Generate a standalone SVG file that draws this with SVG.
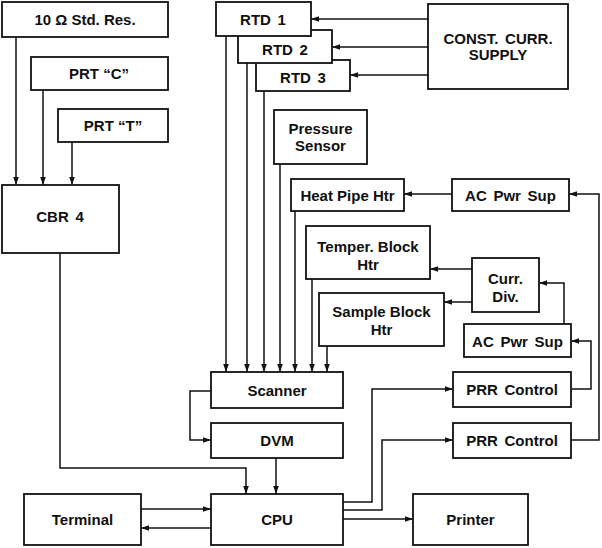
<svg xmlns="http://www.w3.org/2000/svg" width="602" height="548" viewBox="0 0 602 548">
<defs>
<marker id="ah" markerUnits="userSpaceOnUse" markerWidth="9" markerHeight="8" refX="8" refY="4" orient="auto">
<path d="M0,1.2 L8,4 L0,6.8 Z" fill="#111"/>
</marker>
<style>
.box{fill:#fff;stroke:#111;stroke-width:1.8}
.t{font-family:"Liberation Sans",Arial,sans-serif;font-weight:bold;font-size:15px;fill:#111;text-anchor:middle;dominant-baseline:central}
.w{word-spacing:2.5px}
.c path{fill:none;stroke:#111;stroke-width:1.5}
.c .a{marker-end:url(#ah)}
</style>
</defs>
<rect width="602" height="548" fill="#fff"/>
<g class="c" id="connectors">
<path class="a" d="M16,37 V185"/>
<path class="a" d="M43,90 V185"/>
<path class="a" d="M72,142 V185"/>
<path class="a" d="M60,253 V468 H246 V494"/>
<path class="a" d="M428,19 H311"/>
<path class="a" d="M428,47 H332"/>
<path class="a" d="M428,75 H350"/>
<path class="a" d="M226,36 V372"/>
<path class="a" d="M247,63 V372"/>
<path class="a" d="M264,91 V372"/>
<path class="a" d="M280,164 V372"/>
<path class="a" d="M295,211 V372"/>
<path class="a" d="M312,279 V372"/>
<path class="a" d="M327,346 V372"/>
<path class="a" d="M452,194 H404"/>
<path class="a" d="M472,269 H430"/>
<path class="a" d="M472,302 H444"/>
<path class="a" d="M564,324 V283 H539"/>
<path class="a" d="M571,389 H591 V341 H571"/>
<path class="a" d="M571,440 H599 V194 H569"/>
<path class="a" d="M211,391 H190 V440 H211"/>
<path class="a" d="M276,458 V494"/>
<path class="a" d="M141,509 H211"/>
<path class="a" d="M211,528 H141"/>
<path class="a" d="M343,519 H413"/>
<path class="a" d="M343,502 H372 V389 H453"/>
<path class="a" d="M343,510 H382 V440 H453"/>
</g>
<g id="std-res"><rect class="box" x="2" y="2" width="166" height="35"/><text class="t" x="85" y="19.5">10 Ω Std. Res.</text></g>
<g id="prt-c"><rect class="box" x="31" y="57" width="137" height="33"/><text class="t" x="99" y="73.5">PRT “C”</text></g>
<g id="prt-t"><rect class="box" x="58" y="109" width="110" height="33"/><text class="t" x="113" y="125.5">PRT “T”</text></g>
<g id="cbr4"><rect class="box" x="2" y="185" width="117" height="68"/><text class="t w" x="60" y="216">CBR 4</text></g>
<g id="rtd3"><rect class="box" x="256" y="60" width="94" height="31"/><text class="t w" x="303" y="77.5">RTD 3</text></g>
<g id="rtd2"><rect class="box" x="238" y="30" width="94" height="33"/><text class="t w" x="285" y="49">RTD 2</text></g>
<g id="rtd1"><rect class="box" x="216" y="2" width="95" height="34"/><text class="t w" x="263" y="19">RTD 1</text></g>
<g id="const-curr"><rect class="box" x="428" y="4" width="140" height="85"/><text class="t w" x="498" y="38">CONST. CURR.</text><text class="t" x="498" y="54">SUPPLY</text></g>
<g id="pressure"><rect class="box" x="274" y="110" width="93" height="54"/><text class="t" x="320.5" y="128">Pressure</text><text class="t" x="320.5" y="145">Sensor</text></g>
<g id="heat-pipe"><rect class="box" x="291" y="179" width="113" height="32"/><text class="t" x="347.5" y="195">Heat Pipe Htr</text></g>
<g id="ac1"><rect class="box" x="452" y="179" width="117" height="32"/><text class="t w" x="510.5" y="195">AC Pwr Sup</text></g>
<g id="temper"><rect class="box" x="306" y="226" width="124" height="53"/><text class="t" x="368" y="246">Temper. Block</text><text class="t" x="368" y="264">Htr</text></g>
<g id="curr-div"><rect class="box" x="472" y="258" width="67" height="54"/><text class="t" x="505.5" y="278">Curr.</text><text class="t" x="505.5" y="296">Div.</text></g>
<g id="sample"><rect class="box" x="319" y="293" width="125" height="53"/><text class="t" x="381.5" y="311">Sample Block</text><text class="t" x="381.5" y="329">Htr</text></g>
<g id="ac2"><rect class="box" x="464" y="324" width="107" height="33"/><text class="t w" x="517.5" y="341">AC Pwr Sup</text></g>
<g id="scanner"><rect class="box" x="211" y="372" width="132" height="36"/><text class="t" x="277" y="390">Scanner</text></g>
<g id="dvm"><rect class="box" x="211" y="423" width="132" height="35"/><text class="t" x="277" y="440.5">DVM</text></g>
<g id="prr1"><rect class="box" x="453" y="372" width="118" height="35"/><text class="t w" x="512" y="389.5">PRR Control</text></g>
<g id="prr2"><rect class="box" x="453" y="423" width="118" height="35"/><text class="t w" x="512" y="440.5">PRR Control</text></g>
<g id="terminal"><rect class="box" x="24" y="494" width="117" height="51"/><text class="t" x="82.5" y="519">Terminal</text></g>
<g id="cpu"><rect class="box" x="211" y="494" width="132" height="51"/><text class="t" x="277" y="519">CPU</text></g>
<g id="printer"><rect class="box" x="413" y="494" width="115" height="51"/><text class="t" x="470.5" y="519">Printer</text></g>
</svg>
